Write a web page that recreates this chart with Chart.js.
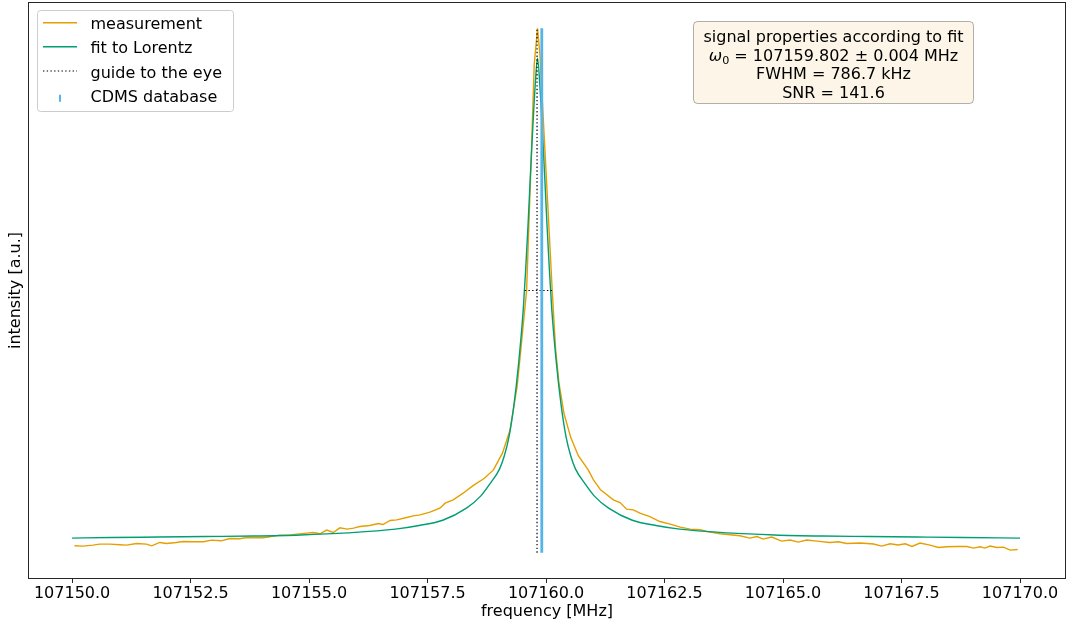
<!DOCTYPE html>
<html><head><meta charset="utf-8">
<script src="https://cdn.jsdelivr.net/npm/chart.js@4.4.0/dist/chart.umd.min.js"></script>
<style>html,body{margin:0;padding:0;background:#fff;}canvas{display:block;}</style>
</head><body>
<canvas id="c" width="1067" height="626"></canvas>
<script>
// ---- data ----
const measFreq = [
107150.05,107150.23,107150.44,107150.58,107150.80,107151.01,107151.15,107151.36,107151.57,107151.68,
107151.85,107151.99,107152.20,107152.34,107152.55,107152.77,107152.94,107153.15,107153.33,107153.54,
107153.68,107153.89,107154.03,107154.17,107154.38,107154.59,107154.74,107154.95,107155.09,107155.23,
107155.37,107155.51,107155.65,107155.80,107155.94,107156.07,107156.28,107156.46,107156.56,107156.71,
107156.85,107157.06,107157.20,107157.34,107157.55,107157.76,107157.87,107158.04,107158.25,107158.46,
107158.70,107158.89,107159.08,107159.24,107159.39,107159.46,107159.59,107159.69,107159.75,107159.82,
107159.87,107159.98,107160.13,107160.20,107160.27,107160.38,107160.52,107160.68,107160.89,107161.00,
107161.15,107161.42,107161.56,107161.70,107161.84,107161.98,107162.19,107162.40,107162.62,107162.83,
107163.04,107163.25,107163.39,107163.53,107163.67,107163.88,107164.09,107164.30,107164.45,107164.58,
107164.76,107164.97,107165.15,107165.32,107165.50,107165.71,107165.99,107166.17,107166.34,107166.63,
107166.91,107167.08,107167.26,107167.43,107167.58,107167.72,107167.89,107168.10,107168.28,107168.46,
107168.67,107168.88,107169.02,107169.16,107169.26,107169.37,107169.51,107169.65,107169.79,107169.95
];
const measIntensity = [
0.0133,0.0127,0.0146,0.0165,0.0165,0.0152,0.0146,0.0178,0.0165,0.0133,
0.0197,0.0178,0.0197,0.0216,0.0209,0.0209,0.0241,0.0228,0.0273,0.0267,
0.0292,0.0286,0.0286,0.0305,0.0337,0.0337,0.0356,0.0375,0.0387,0.0362,
0.0432,0.0387,0.0476,0.0451,0.0470,0.0501,0.0520,0.0558,0.0539,0.0615,
0.0628,0.0672,0.0704,0.0723,0.0775,0.0851,0.0946,0.1010,0.1136,0.1280,
0.1420,0.1580,0.1900,0.2340,0.3170,0.3800,0.5000,0.7610,0.9300,1.0000,
0.9510,0.7610,0.5000,0.3900,0.3250,0.2650,0.2200,0.1850,0.1580,0.1390,
0.1200,0.1010,0.0958,0.0832,0.0819,0.0756,0.0691,0.0596,0.0546,0.0489,
0.0451,0.0438,0.0406,0.0387,0.0362,0.0343,0.0324,0.0280,0.0310,0.0261,
0.0299,0.0223,0.0242,0.0204,0.0242,0.0223,0.0196,0.0209,0.0177,0.0185,
0.0166,0.0128,0.0171,0.0147,0.0171,0.0120,0.0185,0.0147,0.0101,0.0114,
0.0120,0.0120,0.0089,0.0114,0.0089,0.0128,0.0101,0.0108,0.0051,0.0063
];
const fitFreq = [
107150.00,107150.82,107151.82,107152.82,107153.82,107154.82,107155.82,107156.82,107157.32,107157.82,
107158.32,107158.62,107158.82,107159.02,107159.12,107159.22,107159.32,107159.42,107159.52,107159.57,
107159.62,107159.67,107159.72,107159.77,107159.82,
107159.87,107159.92,107159.97,107160.02,107160.07,107160.12,107160.22,107160.32,107160.42,107160.52,
107160.62,107160.82,107161.02,107161.32,107161.82,107162.32,107162.82,107163.82,107164.82,107165.82,
107166.82,107167.82,107168.82,107170.00
];
const fitIntensity = [
0.028,0.029,0.030,0.031,0.032,0.034,0.038,0.045,0.052,0.062,
0.085,0.108,0.132,0.160,0.185,0.222,0.280,0.360,0.465,0.540,
0.625,0.720,0.810,0.890,0.943,
0.890,0.810,0.720,0.625,0.540,0.465,0.360,0.280,0.222,0.185,
0.160,0.132,0.108,0.085,0.062,0.052,0.045,0.038,0.034,0.032,
0.031,0.030,0.029,0.028
];
const guideFreq = 107159.81;
const guideSpan = [0, 1.0];
const halfMaxLevel = 0.5;
const halfMaxFreqs = [107159.55, 107160.13];
const cdmsFreq = 107159.91;
const cdmsSpan = [0, 1.0];
const xTickValues = [107150, 107152.5, 107155, 107157.5, 107160, 107162.5, 107165, 107167.5, 107170];
const xTitle = 'frequency [MHz]';
const yTitle = 'intensity [a.u.]';
const seriesLabels = ['measurement', 'fit to Lorentz', 'guide to the eye', 'CDMS database'];
const infoTitle = 'signal properties according to fit';
const infoOmega = ['ω', '0', ' = 107159.802 ± 0.004 MHz'];
const infoFwhm = 'FWHM = 786.7 kHz';
const infoSnr = 'SNR = 141.6';

// ---- chart ----
const FONT = '"DejaVu Sans", "Liberation Sans", sans-serif';
Chart.defaults.font.family = FONT;
Chart.defaults.font.size = 16;
Chart.defaults.color = '#000';

const pts = (xs, ys) => xs.map((x, i) => ({x: x, y: ys[i]}));
const ORANGE = '#E69F00', GREEN = '#009E73', BLUE = '#56B4E9';
const DOT = [1.4, 2.3];

function roundRect(ctx, x, y, w, h, r) {
  ctx.beginPath();
  ctx.moveTo(x + r, y);
  ctx.arcTo(x + w, y, x + w, y + h, r);
  ctx.arcTo(x + w, y + h, x, y + h, r);
  ctx.arcTo(x, y + h, x, y, r);
  ctx.arcTo(x, y, x + w, y, r);
  ctx.closePath();
}

const overlay = {
  id: 'overlay',
  afterDraw(chart) {
    const ctx = chart.ctx, a = chart.chartArea;
    ctx.save();
    // frame
    ctx.strokeStyle = '#262626';
    ctx.lineWidth = 1;
    ctx.setLineDash([]);
    ctx.strokeRect(Math.round(a.left) + 0.5, Math.round(a.top) + 0.5,
                   Math.round(a.right - a.left) - 1, Math.round(a.bottom - a.top) - 1);

    // legend
    roundRect(ctx, 37.5, 10.5, 196, 101, 3);
    ctx.fillStyle = 'rgba(255,255,255,0.8)';
    ctx.fill();
    ctx.strokeStyle = '#cccccc';
    ctx.stroke();
    const ds = chart.data.datasets;
    const base = [29.3, 53.4, 77.6, 101.7];
    const styles = [ds[0], ds[1], ds[2], ds[4]];
    ctx.font = '16px ' + FONT;
    ctx.textBaseline = 'alphabetic';
    ctx.textAlign = 'left';
    for (let i = 0; i < 4; i++) {
      const s = styles[i];
      const yl = base[i] - 6.6;
      ctx.strokeStyle = s.borderColor;
      ctx.setLineDash(s.borderDash || []);
      if (i === 3) {
        ctx.lineWidth = 2;
        ctx.beginPath(); ctx.moveTo(60, base[i] - 7); ctx.lineTo(60, base[i]); ctx.stroke();
      } else {
        ctx.lineWidth = s.borderWidth;
        ctx.beginPath(); ctx.moveTo(43, yl); ctx.lineTo(77, yl); ctx.stroke();
      }
      ctx.setLineDash([]);
      ctx.fillStyle = '#000';
      ctx.fillText(seriesLabels[i], 90.5, base[i]);
    }

    // info box
    roundRect(ctx, 693.5, 21.5, 280, 82, 4);
    ctx.fillStyle = 'rgba(245,222,179,0.3)';
    ctx.fill();
    ctx.strokeStyle = 'rgba(0,0,0,0.3)';
    ctx.lineWidth = 1;
    ctx.stroke();
    const cx = 833.5;
    ctx.fillStyle = '#000';
    ctx.textAlign = 'center';
    ctx.font = '16px ' + FONT;
    ctx.fillText(infoTitle, cx, 42.3);
    ctx.fillText(infoFwhm, cx, 79.3);
    ctx.fillText(infoSnr, cx, 97.8);
    // omega line with subscript
    ctx.textAlign = 'left';
    ctx.font = 'italic 16px ' + FONT;
    const w1 = ctx.measureText(infoOmega[0]).width;
    ctx.font = '11.2px ' + FONT;
    const w2 = ctx.measureText(infoOmega[1]).width;
    ctx.font = '16px ' + FONT;
    const w3 = ctx.measureText(infoOmega[2]).width;
    let x0 = cx - (w1 + w2 + w3) / 2;
    const yb = 60.8;
    ctx.font = 'italic 16px ' + FONT;
    ctx.fillText(infoOmega[0], x0, yb);
    ctx.font = '11.2px ' + FONT;
    ctx.fillText(infoOmega[1], x0 + w1, yb + 3.3);
    ctx.font = '16px ' + FONT;
    ctx.fillText(infoOmega[2], x0 + w1 + w2, yb);
    ctx.restore();
  }
};

new Chart(document.getElementById('c'), {
  type: 'line',
  data: {
    datasets: [
      {label: seriesLabels[0], data: pts(measFreq, measIntensity), borderColor: ORANGE, borderWidth: 1.4,
       pointRadius: 0, tension: 0, order: 5},
      {label: seriesLabels[1], data: pts(fitFreq, fitIntensity), borderColor: GREEN, borderWidth: 1.4,
       pointRadius: 0, cubicInterpolationMode: 'monotone', order: 4},
      {label: seriesLabels[2], data: [{x: guideFreq, y: guideSpan[0]}, {x: guideFreq, y: guideSpan[1]}],
       borderColor: '#000', borderWidth: 1.2, borderDash: DOT, pointRadius: 0, order: 3},
      {label: seriesLabels[2] + ' (half maximum)', data: [{x: halfMaxFreqs[0], y: halfMaxLevel}, {x: halfMaxFreqs[1], y: halfMaxLevel}],
       borderColor: '#000', borderWidth: 1.2, borderDash: DOT, pointRadius: 0, order: 2},
      {label: seriesLabels[3], data: [{x: cdmsFreq, y: cdmsSpan[0]}, {x: cdmsFreq, y: cdmsSpan[1]}],
       borderColor: BLUE, borderWidth: 2.8, pointRadius: 0, order: 1}
    ]
  },
  options: {
    responsive: false,
    animation: false,
    events: [],
    devicePixelRatio: 1,
    layout: {padding: {left: 0, right: 1, top: 2, bottom: 0}},
    plugins: {legend: {display: false}, tooltip: {enabled: false}},
    scales: {
      x: {
        type: 'linear', min: 107149.07, max: 107170.97,
        afterBuildTicks: s => { s.ticks = xTickValues.map(v => ({value: v})); },
        afterFit: s => { s.height = 47; },
        ticks: {color: '#000', font: {size: 16}, padding: 1, maxRotation: 0, autoSkip: false,
                callback: v => Number(v).toFixed(1)},
        grid: {display: true, drawOnChartArea: false, drawTicks: true, tickLength: 4, color: '#262626', lineWidth: 1},
        border: {display: false},
        title: {display: true, text: xTitle, color: '#000', font: {size: 16}, padding: {top: 0, bottom: 5}}
      },
      y: {
        type: 'linear', min: -0.05, max: 1.05,
        afterFit: s => { s.width = 28; },
        ticks: {display: false},
        grid: {display: false, drawTicks: false},
        border: {display: false},
        title: {display: true, text: yTitle, color: '#000', font: {size: 16}, padding: {top: 6, bottom: 2}}
      }
    }
  },
  plugins: [overlay]
});
</script>
</body></html>
